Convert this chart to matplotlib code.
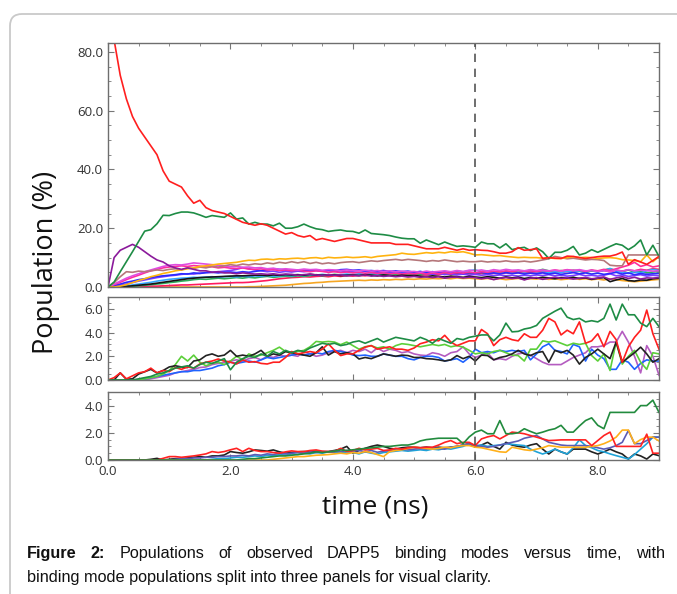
import numpy as np
import matplotlib
matplotlib.use("Agg")
import matplotlib.pyplot as plt
from matplotlib.patches import FancyBboxPatch
from matplotlib.transforms import IdentityTransform
from matplotlib.ticker import MultipleLocator, FormatStrFormatter
from matplotlib import font_manager

W, H = 677, 594

# time axis, one sample every 0.1 ns
time_ns = np.round(np.arange(91) * 0.1, 1)

# ---- top panel ----
top_red = [
    92, 84, 72, 64, 58, 54, 51, 48, 45, 39.5,
    36, 35, 34, 31, 28.5, 29.5, 27, 26, 25.5, 25,
    24, 23, 22, 21.5, 21, 21.5, 21, 20, 19, 18,
    18.5, 17.5, 17, 17.5, 16, 16.5, 16, 15.5, 16, 16.5,
    16.5, 16, 15.5, 15, 15, 15, 15, 14.5, 14.5, 14.5,
    14, 13.5, 13, 13, 13, 13.5, 13, 12.5, 13, 12.5,
    12.7, 12.5, 12.4, 12, 11.5, 11.5, 12, 13.4, 12.5, 12.7,
    13, 9.7, 10, 9.8, 9.7, 10.5, 10.4, 10, 9.7, 10,
    10.3, 10.5, 10.5, 11, 11.9, 7.7, 9.3, 8.5, 7.7, 9,
    10.4]
top_dgreen = [
    0, 1.7, 5.2, 8.6, 12, 15.5, 19, 19.5, 21.5, 24.4,
    24.3, 25, 25.5, 25.5, 25.2, 24.5, 23.7, 24.3, 24, 23.7,
    25.2, 23.1, 23.5, 21.4, 22, 21.4, 21.4, 20.8, 21.7, 20,
    20, 20.5, 21.4, 20.5, 19.8, 19.5, 18.9, 19.2, 19.4, 19,
    18.9, 18.3, 19.4, 18.2, 18, 17.8, 17.5, 17, 16.6, 16.4,
    16.4, 14.9, 16, 15.2, 14.4, 15.3, 14.5, 13.8, 14, 13.8,
    13.5, 15.3, 14.7, 14.7, 13.3, 14.7, 12.7, 13.2, 13.5, 12.4,
    13.3, 12, 9.7, 11.8, 11.8, 12.5, 13.8, 10.9, 11.5, 12.7,
    11.8, 12.8, 13.8, 14.7, 14.2, 12.7, 14, 16, 10.9, 14.2,
    10.4]
top_purple = [
    0, 10, 12.5, 13.5, 14.5, 13.5, 12, 10.5, 9.2, 8.5,
    7.2, 6.5, 6, 6.5, 6, 5.5, 5.5, 5, 5.2, 4.8,
    4.8, 4.5, 4.8, 4.6, 4.4, 4.5, 4.3, 4.5, 4.2, 4.4,
    4.3, 4.0, 4.2, 4.4, 4.1, 3.9, 4.2, 4.0, 4.1, 3.8,
    4.0, 3.8, 4.1, 3.7, 3.9, 3.6, 3.8, 3.5, 3.7, 3.4,
    3.6, 3.3, 3.5, 3.2, 3.5, 3.0, 3.3, 3.4, 3.1, 3.3,
    3.2, 2.8, 3.1, 2.5, 3.0, 3.2, 2.9, 3.1, 2.4, 3.0,
    3.2, 2.6, 3.0, 3.3, 2.9, 3.1, 2.7, 3.0, 3.2, 2.8,
    3.0, 3.4, 2.6, 3.1, 3.5, 2.9, 3.3, 2.7, 3.1, 3.0,
    3.2]
top_orange = [
    0, 0, 0.3, 0.8, 1.5, 2.2, 2.8, 3.5, 4.0, 4.6,
    5.0, 5.5, 5.8, 6.2, 6.5, 7.0, 7.2, 7.5, 7.8, 8.0,
    8.2, 8.4, 8.8, 9.1, 9.0, 9.4, 9.5, 9.3, 9.6, 9.5,
    9.7, 9.8, 9.6, 9.9, 10.0, 9.7, 10.1, 9.9, 10.0, 10.2,
    10.0, 10.1, 10.3, 10.0, 10.4, 10.6, 10.8, 11.0, 11.5, 11.2,
    11.1, 11.4, 11.7, 11.5, 11.8, 11.6, 12.0, 11.8, 12.0, 11.5,
    10.9, 11.0, 10.8, 10.6, 10.7, 10.4, 10.2, 10.0, 10.1, 10.0,
    10.0, 9.8, 9.9, 9.7, 9.7, 10.0, 10.3, 10.0, 10.1, 10.0,
    9.7, 9.9, 10.0, 9.8, 9.3, 9.2, 9.0, 8.6, 10.9, 8.6,
    10.4]
top_rosy = [
    0, 1.5, 3.5, 5.2, 5.0, 5.4, 5.2, 5.5, 5.8, 5.6,
    6.0, 6.2, 5.8, 6.5, 6.3, 6.8, 6.5, 7.0, 6.8, 7.2,
    7.6, 7.3, 7.8, 7.5, 7.9, 7.7, 8.2, 7.9, 8.4, 8.1,
    8.6, 8.2, 8.6, 8.0, 8.4, 7.9, 8.2, 7.9, 8.3, 8.5,
    8.6, 8.3, 8.6, 8.9, 8.7, 9.0, 9.2, 9.4, 9.1, 9.4,
    9.2, 9.0, 8.7, 9.0, 8.8, 9.2, 8.9, 8.6, 8.8, 8.6,
    8.6, 8.8, 8.5, 8.7, 8.6, 8.9, 8.6, 8.6, 8.8, 8.5,
    8.8, 9.2, 9.6, 10.4, 10.0, 9.6, 9.8, 9.5, 9.2, 9.4,
    9.3, 9.0, 7.4, 7.2, 7.2, 10.9, 10.9, 10.9, 10.9, 10.9,
    10.9]
top_orchid = [
    0, 1.0, 2.0, 3.0, 3.8, 4.5, 5.2, 5.8, 6.4, 7.0,
    7.4, 7.6, 7.5, 7.8, 8.2, 8.0, 7.8, 7.6, 7.4, 7.2,
    6.9, 7.0, 6.7, 6.8, 6.5, 6.6, 6.2, 6.4, 6.0, 6.2,
    6.0, 5.8, 6.1, 5.9, 6.0, 5.7, 5.9, 5.8, 5.6, 5.8,
    5.6, 5.5, 5.7, 5.4, 5.6, 5.3, 5.5, 5.2, 5.4, 5.2,
    5.3, 5.0, 5.4, 5.1, 5.3, 5.5, 5.2, 5.6, 5.3, 5.7,
    5.5, 5.8, 5.4, 5.9, 5.6, 6.0, 5.7, 5.8, 5.5, 5.9,
    5.6, 5.8, 5.5, 5.7, 5.4, 5.8, 5.6, 5.9, 5.5, 5.6,
    5.3, 5.6, 5.2, 5.8, 5.4, 5.9, 5.5, 5.7, 5.6, 5.4,
    5.5]
top_dpink = [
    0, 0.8, 1.6, 2.5, 3.3, 4.0, 4.8, 5.5, 6.0, 6.5,
    6.8, 7.0, 7.2, 7.0, 7.3, 7.1, 6.8, 6.9, 6.5, 6.7,
    6.4, 6.3, 6.5, 6.1, 6.0, 6.2, 5.8, 5.9, 5.6, 5.8,
    5.5, 5.7, 5.4, 5.2, 5.5, 5.3, 5.0, 5.2, 4.9, 5.1,
    4.8, 5.0, 4.7, 4.9, 4.6, 4.8, 4.5, 4.7, 4.4, 4.6,
    4.5, 4.7, 4.4, 4.8, 4.5, 4.9, 4.6, 5.0, 4.7, 5.1,
    4.8, 5.2, 5.0, 5.4, 5.1, 5.5, 5.2, 5.6, 5.3, 5.5,
    5.2, 5.6, 5.4, 5.8, 5.5, 5.9, 5.6, 5.7, 5.3, 5.8,
    5.5, 6.0, 5.6, 6.2, 6.8, 7.4, 8.4, 7.0, 7.6, 6.8,
    7.2]
top_blue = [
    0, 0.5, 1.0, 1.6, 2.0, 2.5, 2.8, 3.2, 3.6, 3.8,
    4.0, 4.2, 4.5, 4.4, 4.8, 4.6, 4.9, 5.0, 4.8, 5.0,
    5.1, 4.9, 5.2, 5.0, 5.3, 5.6, 5.8, 6.2, 6.0, 5.8,
    5.6, 5.7, 5.5, 5.8, 5.6, 5.4, 5.7, 5.5, 5.9, 6.0,
    5.7, 5.8, 5.5, 5.6, 5.4, 5.6, 5.3, 5.5, 5.2, 5.4,
    5.0, 5.3, 4.9, 5.2, 4.8, 5.1, 4.7, 5.0, 4.6, 4.9,
    4.7, 5.0, 4.6, 4.8, 4.5, 4.9, 4.6, 4.8, 4.4, 4.7,
    4.5, 4.8, 4.4, 4.7, 4.3, 4.6, 4.9, 4.5, 4.8, 4.4,
    4.7, 4.3, 4.6, 5.0, 4.4, 4.8, 4.2, 4.6, 4.3, 4.5,
    4.6]
top_violet = [
    0, 0.3, 0.6, 1.0, 1.5, 2.0, 2.4, 2.8, 3.2, 3.5,
    3.8, 4.0, 4.3, 4.5, 4.4, 4.7, 4.9, 5.0, 5.2, 5.4,
    5.6, 6.0, 6.6, 6.2, 5.8, 5.5, 5.2, 5.4, 5.0, 5.3,
    5.1, 5.4, 5.2, 5.5, 5.8, 5.4, 5.6, 5.3, 5.5, 5.2,
    5.4, 5.6, 5.3, 5.1, 4.9, 5.2, 4.8, 5.0, 4.7, 4.9,
    4.6, 4.8, 4.5, 4.3, 4.6, 4.2, 4.5, 4.1, 4.4, 4.0,
    4.3, 4.0, 4.2, 3.9, 4.1, 3.8, 4.0, 3.7, 4.0, 3.8,
    4.1, 3.9, 4.2, 3.8, 4.0, 3.7, 3.9, 4.3, 3.8, 4.0,
    3.7, 4.0, 4.5, 3.8, 4.1, 3.6, 3.9, 4.2, 3.7, 4.0,
    3.8]
top_sky = [
    0, 0, 0.2, 0.4, 0.7, 1.0, 1.3, 1.6, 2.0, 2.3,
    2.6, 2.8, 3.0, 3.1, 3.3, 3.2, 3.4, 3.5, 3.3, 3.5,
    3.6, 3.4, 3.7, 3.5, 3.8, 3.6, 3.9, 3.7, 3.8, 4.0,
    3.8, 4.1, 3.9, 4.2, 4.0, 4.3, 4.1, 4.0, 4.2, 4.4,
    4.2, 4.5, 4.3, 4.6, 4.4, 4.7, 4.5, 4.8, 4.6, 4.9,
    4.7, 5.0, 4.8, 5.2, 4.9, 5.3, 5.0, 5.4, 5.1, 5.6,
    5.8, 5.2, 5.5, 5.0, 5.3, 4.9, 5.2, 5.6, 5.1, 5.4,
    5.0, 5.3, 4.8, 5.2, 4.9, 5.4, 5.0, 5.5, 5.1, 5.7,
    5.2, 5.6, 6.3, 5.4, 5.0, 4.6, 5.2, 4.8, 5.5, 6.0,
    5.6]
top_green = [
    0, 0, 0, 0.1, 0.2, 0.4, 0.6, 0.8, 1.0, 1.2,
    1.5, 1.7, 2.0, 2.2, 2.5, 2.7, 2.6, 2.8, 3.0, 2.8,
    3.0, 3.2, 3.0, 3.3, 3.1, 3.4, 3.6, 3.3, 3.5, 3.7,
    3.5, 3.8, 3.6, 3.9, 4.2, 3.8, 4.0, 4.3, 4.1, 3.9,
    4.2, 4.0, 4.3, 4.1, 4.4, 4.2, 4.5, 4.3, 4.6, 4.4,
    4.6, 4.3, 4.7, 4.5, 4.8, 4.4, 4.7, 5.0, 4.6, 4.9,
    4.7, 5.0, 4.6, 5.2, 4.8, 5.4, 5.0, 5.6, 5.2, 5.8,
    5.4, 6.0, 5.5, 5.2, 5.6, 5.3, 5.7, 5.4, 5.0, 5.5,
    5.2, 5.8, 6.2, 5.6, 5.3, 5.8, 5.0, 5.4, 4.8, 5.1,
    5.3]
top_black = [
    0, 0, 0.1, 0.2, 0.4, 0.6, 0.8, 1.0, 1.3, 1.6,
    1.9, 2.2, 2.5, 2.8, 3.0, 3.2, 3.3, 3.4, 3.5, 3.6,
    3.7, 3.8, 3.8, 3.9, 4.0, 4.0, 3.9, 4.1, 4.0, 4.2,
    4.1, 4.2, 4.0, 4.3, 4.1, 4.0, 4.2, 4.1, 3.9, 4.0,
    4.1, 3.9, 4.2, 4.0, 3.8, 4.1, 3.9, 3.7, 4.0, 3.8,
    3.9, 3.7, 3.5, 3.8, 3.6, 3.4, 3.7, 3.5, 3.3, 3.6,
    3.4, 3.2, 3.5, 3.3, 3.0, 3.4, 3.1, 3.3, 2.9, 3.2,
    3.0, 3.3, 3.1, 2.8, 3.2, 3.0, 3.3, 2.9, 3.1, 2.6,
    3.0, 3.2, 1.8, 2.4, 2.9, 2.2, 2.0, 2.4, 2.3, 2.8,
    3.0]
top_crimson = [
    0, 0, 0, 0.1, 0.1, 0.2, 0.2, 0.3, 0.3, 0.4,
    0.5, 0.6, 0.7, 0.7, 0.8, 0.9, 1.0, 1.1, 1.2, 1.3,
    1.4, 1.5, 1.5, 1.6, 1.8, 2.0, 2.2, 2.5, 2.8, 3.0,
    3.2, 3.3, 3.5, 3.4, 3.6, 3.7, 3.5, 3.8, 3.6, 3.9,
    3.7, 4.0, 3.8, 4.1, 3.9, 4.2, 4.0, 4.3, 4.1, 4.2,
    4.0, 4.3, 4.1, 4.4, 4.2, 4.5, 4.3, 4.6, 4.4, 4.5,
    4.3, 4.6, 4.4, 4.7, 4.5, 4.8, 4.6, 4.9, 4.7, 5.0,
    4.8, 5.1, 4.9, 5.2, 5.0, 5.3, 5.1, 5.4, 5.2, 5.5,
    5.3, 5.6, 5.2, 5.7, 5.4, 5.8, 5.5, 6.0, 5.7, 6.2,
    6.0]
top_amber = [
    0, 0, 0, 0, 0, 0, 0, 0, 0, 0,
    0, 0, 0, 0, 0, 0, 0, 0, 0, 0,
    0, 0, 0, 0.1, 0.1, 0.2, 0.3, 0.4, 0.5, 0.6,
    0.8, 1.0, 1.2, 1.3, 1.5, 1.6, 1.8, 1.9, 2.0, 2.1,
    2.2, 2.3, 2.2, 2.4, 2.3, 2.5, 2.4, 2.6, 2.5, 2.7,
    2.6, 2.8, 2.7, 2.9, 2.8, 3.0, 2.8, 3.1, 2.9, 3.0,
    2.8, 2.7, 2.9, 2.6, 2.8, 2.5, 2.7, 2.9, 2.6, 2.8,
    2.7, 2.9, 2.6, 2.8, 2.5, 2.7, 2.9, 2.6, 2.8, 2.5,
    2.7, 2.4, 2.8, 2.5, 2.2, 2.0, 1.8, 2.0, 2.2, 2.4,
    2.6]

# ---- middle panel ----
mid_dgreen = [
    0, 0, 0, 0, 0, 0.1, 0.2, 0.3, 0.5, 0.6,
    0.8, 1.0, 1.1, 1.2, 1.0, 1.3, 1.5, 1.4, 1.6, 1.8,
    0.86, 1.5, 1.8, 2.0, 1.9, 2.2, 2.0, 2.4, 2.2, 2.5,
    2.3, 2.5, 2.4, 2.7, 2.9, 3.1, 3.0, 3.1, 2.9, 3.0,
    3.2, 3.3, 3.1, 3.3, 3.5, 3.2, 3.4, 3.6, 3.5, 3.4,
    3.3, 3.6, 3.4, 3.1, 3.5, 3.3, 3.1, 3.5, 3.4, 3.6,
    3.7, 3.8, 3.8, 3.3, 3.8, 4.8, 4.06, 4.1, 4.3, 4.4,
    4.6, 5.2, 5.5, 5.8, 6.06, 5.3, 5.1, 5.2, 4.9, 5.0,
    4.9, 5.2, 6.4, 5.06, 6.4, 5.5, 5.5, 4.8, 4.5, 5.2,
    4.5]
mid_red = [
    0, 0.2, 0.6, 0.1, 0.35, 0.6, 0.7, 1.0, 0.6, 0.8,
    0.7, 1.05, 0.9, 1.1, 1.0, 1.35, 1.5, 1.6, 1.77, 1.6,
    1.5, 1.35, 1.7, 1.5, 1.55, 1.4, 1.35, 1.5, 1.5, 1.9,
    2.4, 2.2, 2.3, 2.4, 2.3, 2.6, 3.05, 2.5, 2.06, 2.2,
    2.2, 2.5, 2.77, 2.9, 2.6, 2.7, 2.8, 2.6, 2.6, 2.5,
    2.7, 3.06, 3.2, 3.4, 3.3, 3.77, 3.2, 2.9, 3.1, 3.3,
    3.3, 4.26, 3.9, 2.9, 3.4, 3.6, 3.4, 3.3, 3.9, 3.6,
    3.6, 4.2, 5.2, 4.9, 3.8, 4.2, 3.9, 4.9, 3.1, 3.3,
    3.9, 2.8, 4.1, 3.4, 1.5, 2.8, 3.6, 4.2, 5.9, 3.9,
    2.6]
mid_lgreen = [
    0, 0, 0, 0, 0, 0, 0.1, 0.2, 0.3, 0.5,
    0.8, 1.3, 2.0, 1.6, 2.1, 1.5, 1.2, 1.4, 1.5, 1.3,
    1.6, 2.0, 1.7, 2.2, 2.0, 2.1, 2.3, 2.5, 2.77, 2.4,
    2.3, 2.4, 2.5, 2.8, 3.25, 3.2, 3.25, 3.2, 2.98, 3.2,
    2.9, 2.6, 2.8, 2.9, 2.7, 2.8, 2.6, 2.9, 3.06, 3.0,
    2.9, 2.8, 2.9, 3.0, 2.9, 3.0, 2.8, 2.9, 2.77, 2.5,
    2.2, 2.3, 2.2, 2.4, 2.5, 2.3, 2.1, 2.06, 1.6, 2.6,
    2.6, 3.3, 3.2, 3.3, 3.1, 2.9, 3.1, 3.0, 3.1, 2.06,
    1.6, 2.2, 0.8, 3.2, 1.34, 2.0, 2.5, 1.5, 0.9, 2.3,
    2.2]
mid_blue = [
    0, 0, 0, 0, 0, 0, 0.1, 0.2, 0.3, 0.4,
    0.5, 0.6, 0.7, 0.7, 0.8, 0.8, 0.9, 1.0, 1.2, 1.3,
    1.5, 1.4, 1.5, 1.6, 1.5, 1.7, 1.9, 1.8, 1.9, 2.0,
    2.1, 2.2, 2.1, 2.2, 2.3, 2.2, 2.4, 2.5, 2.4, 2.3,
    2.1, 2.06, 2.1, 2.0, 2.0, 2.2, 2.1, 2.0, 2.0, 1.8,
    1.7, 1.9, 2.0, 2.0, 1.9, 1.6, 1.7, 1.8, 1.5, 1.9,
    2.6, 2.3, 2.4, 2.3, 2.5, 2.4, 2.5, 2.4, 2.5, 1.7,
    2.2, 2.8, 3.06, 2.5, 2.4, 2.2, 3.0, 2.8, 1.6, 2.6,
    2.1, 1.8, 0.9, 0.9, 1.7, 1.5, 0.9, 1.4, 1.7, 1.6,
    1.6]
mid_orchid = [
    0, 0, 0, 0, 0, 0, 0, 0.1, 0.2, 0.3,
    0.4, 0.6, 0.7, 0.8, 0.9, 1.05, 1.1, 1.3, 1.4, 1.5,
    1.6, 1.7, 1.6, 1.8, 1.9, 1.7, 2.0, 1.9, 2.1, 2.0,
    2.1, 2.0, 2.4, 2.2, 2.0, 2.1, 2.3, 2.4, 2.5, 2.3,
    2.5, 2.4, 2.6, 2.3, 2.7, 2.4, 2.6, 2.5, 2.3, 2.4,
    2.2, 2.1, 2.06, 2.3, 2.2, 2.0, 2.3, 2.4, 2.8, 2.2,
    1.9, 2.1, 2.3, 1.7, 1.8, 1.7, 2.0, 2.2, 2.3, 2.1,
    1.8, 1.5, 1.3, 1.3, 1.3, 1.6, 1.9, 2.1, 2.3, 2.8,
    2.8, 2.9, 3.2, 3.2, 4.1, 3.2, 2.0, 0.6, 2.9, 2.0,
    0.4]
mid_black = [
    0, 0, 0.6, 0.06, 0.1, 0.5, 0.7, 0.9, 0.6, 0.8,
    1.1, 1.2, 1.1, 1.05, 1.6, 1.7, 2.06, 2.2, 2.0, 2.1,
    2.5, 2.0, 2.1, 2.0, 2.2, 2.5, 2.0, 2.2, 2.1, 2.4,
    2.3, 2.2, 2.1, 2.0, 2.3, 2.8, 2.1, 2.4, 2.2, 2.3,
    2.2, 1.77, 1.9, 1.8, 2.0, 2.2, 2.1, 2.0, 2.1, 2.06,
    1.9, 1.9, 1.8, 1.77, 1.7, 1.6, 1.7, 2.06, 1.8, 2.0,
    1.6, 2.1, 2.06, 1.7, 1.9, 2.0, 2.2, 2.5, 2.2, 2.06,
    2.3, 2.4, 1.5, 2.5, 2.3, 2.5, 2.1, 1.34, 1.9, 2.2,
    2.6, 2.2, 1.8, 3.2, 1.5, 1.9, 2.3, 2.77, 2.2, 1.5,
    1.8]

# ---- bottom panel ----
bot_dgreen = [
    0, 0, 0, 0, 0, 0, 0, 0, 0, 0,
    0, 0, 0, 0, 0, 0, 0, 0, 0, 0,
    0, 0, 0.05, 0.1, 0.1, 0.15, 0.2, 0.25, 0.3, 0.3,
    0.35, 0.4, 0.45, 0.5, 0.6, 0.55, 0.6, 0.65, 0.74, 0.7,
    0.75, 0.8, 0.85, 0.9, 0.95, 1.0, 1.0, 1.05, 1.1, 1.1,
    1.2, 1.4, 1.5, 1.55, 1.6, 1.6, 1.6, 1.6, 1.2, 1.7,
    2.05, 2.2, 1.93, 1.93, 2.9, 1.93, 1.93, 2.0, 2.3, 2.1,
    1.93, 2.05, 2.2, 2.3, 2.55, 2.05, 2.05, 2.5, 2.9, 3.1,
    2.55, 2.3, 3.5, 3.5, 3.5, 3.5, 3.5, 4.0, 4.0, 4.4,
    3.5]
bot_red = [
    0, 0, 0, 0, 0, 0, 0, 0, 0, 0.12,
    0.25, 0.25, 0.2, 0.25, 0.3, 0.37, 0.45, 0.62, 0.55, 0.62,
    0.75, 0.86, 0.62, 0.86, 0.7, 0.62, 0.62, 0.55, 0.5, 0.6,
    0.67, 0.62, 0.62, 0.7, 0.74, 0.65, 0.62, 0.62, 0.86, 0.62,
    0.7, 0.86, 0.74, 0.8, 0.86, 0.7, 0.74, 0.86, 0.8, 0.9,
    0.94, 0.9, 0.94, 0.94, 1.1, 1.3, 1.43, 1.2, 1.3, 1.3,
    1.06, 1.55, 1.7, 1.8, 1.55, 1.8, 2.05, 2.0, 1.93, 1.8,
    1.68, 1.55, 1.43, 1.45, 1.48, 1.48, 1.48, 1.48, 1.48, 1.06,
    1.43, 1.8, 2.05, 1.0, 1.0, 1.0, 1.0, 1.0, 1.9, 0.5,
    0.5]
bot_slate = [
    0, 0, 0, 0, 0, 0, 0, 0, 0, 0,
    0, 0.05, 0.1, 0.1, 0.15, 0.15, 0.2, 0.2, 0.25, 0.25,
    0.3, 0.3, 0.35, 0.3, 0.4, 0.35, 0.45, 0.4, 0.5, 0.45,
    0.5, 0.55, 0.5, 0.6, 0.55, 0.62, 0.6, 0.65, 0.6, 0.7,
    0.65, 0.7, 0.6, 0.7, 0.57, 0.65, 0.7, 0.75, 0.8, 0.75,
    0.8, 0.85, 0.8, 0.9, 0.85, 0.8, 0.95, 1.0, 1.1, 1.2,
    1.06, 1.0, 0.94, 1.0, 1.1, 1.2, 1.3, 1.4, 1.6, 1.7,
    1.8, 1.55, 1.3, 1.2, 1.1, 1.06, 1.06, 1.06, 1.06, 1.0,
    0.9, 0.8, 0.9, 1.06, 1.3, 2.17, 1.2, 1.2, 1.43, 1.68,
    1.68]
bot_cyan = [
    0, 0, 0, 0, 0, 0, 0, 0, 0, 0,
    0, 0, 0, 0, 0, 0, 0, 0.05, 0.1, 0.1,
    0.15, 0.2, 0.2, 0.25, 0.3, 0.25, 0.35, 0.3, 0.4, 0.35,
    0.45, 0.4, 0.5, 0.45, 0.55, 0.5, 0.6, 0.55, 0.5, 0.6,
    0.55, 0.45, 0.6, 0.5, 0.44, 0.55, 0.6, 0.65, 0.7, 0.65,
    0.7, 0.75, 0.7, 0.8, 0.75, 0.85, 0.8, 0.9, 1.0, 1.2,
    1.06, 1.1, 1.0, 1.06, 1.1, 1.2, 1.15, 1.1, 1.06, 0.8,
    0.6, 0.44, 0.6, 0.8, 0.6, 0.44, 0.9, 1.48, 1.06, 0.9,
    0.7, 0.6, 0.45, 0.32, 0.2, 0.07, 0.4, 0.8, 1.2, 1.68,
    1.68]
bot_orange = [
    0, 0, 0, 0, 0, 0, 0, 0, 0, 0,
    0, 0, 0, 0, 0, 0, 0, 0, 0, 0,
    0, 0, 0, 0, 0, 0, 0, 0.05, 0.1, 0.15,
    0.2, 0.25, 0.25, 0.3, 0.35, 0.37, 0.4, 0.45, 0.5, 0.45,
    0.55, 0.5, 0.62, 0.55, 0.4, 0.25, 0.62, 0.7, 0.75, 0.85,
    0.94, 0.9, 0.85, 0.8, 0.85, 0.94, 0.9, 1.0, 1.06, 1.06,
    0.94, 0.9, 0.8, 0.7, 0.6, 0.57, 0.94, 0.85, 0.75, 0.7,
    0.8, 0.9, 1.06, 1.0, 0.94, 0.94, 0.94, 0.94, 0.94, 1.0,
    1.06, 1.2, 1.4, 1.68, 2.2, 2.2, 1.2, 1.5, 1.68, 1.68,
    1.4]
bot_black = [
    0, 0, 0, 0, 0, 0, 0, 0.05, 0.12, 0,
    0.05, 0.1, 0.1, 0.15, 0.2, 0.25, 0.2, 0.3, 0.3, 0.37,
    0.62, 0.55, 0.5, 0.6, 0.74, 0.7, 0.65, 0.74, 0.6, 0.5,
    0.55, 0.6, 0.62, 0.6, 0.65, 0.6, 0.62, 0.7, 0.8, 1.0,
    0.5, 0.7, 0.86, 1.0, 1.1, 1.0, 0.86, 0.8, 0.9, 0.94,
    0.94, 0.9, 0.95, 0.9, 0.94, 0.9, 0.94, 1.0, 1.1, 1.2,
    0.94, 1.1, 1.3, 1.0, 0.8, 1.3, 1.1, 1.0, 0.94, 1.1,
    1.2, 0.8, 0.44, 0.8, 0.6, 0.44, 0.8, 0.8, 0.8, 0.6,
    0.44, 0.6, 0.8, 0.6, 0.44, 0.07, 0.44, 0.3, 0.07, 0.44,
    0.32]

top_series = [
    (top_amber, "#f5a623"), (top_crimson, "#ff1a5e"), (top_green, "#2fae5a"),
    (top_sky, "#35a7ff"), (top_violet, "#7b3cff"), (top_blue, "#2b2bff"),
    (top_dpink, "#ff2d9b"), (top_orchid, "#e04ce0"), (top_black, "#151515"),
    (top_rosy, "#b5767a"), (top_orange, "#ffb30f"), (top_purple, "#8b1a9b"),
    (top_dgreen, "#1e8c45"), (top_red, "#ff1f1f"),
]
mid_series = [
    (mid_orchid, "#b45cc0"), (mid_blue, "#1f63ff"), (mid_lgreen, "#5ccf3a"),
    (mid_black, "#222222"), (mid_red, "#ff1f1f"), (mid_dgreen, "#1e8c45"),
]
bot_series = [
    (bot_black, "#222222"), (bot_cyan, "#1fa3d8"), (bot_slate, "#5b5bb5"),
    (bot_orange, "#ffb01a"), (bot_red, "#ff2222"), (bot_dgreen, "#228b3e"),
]


def have_font(name):
    try:
        font_manager.findfont(name, fallback_to_default=False)
        return True
    except ValueError:
        return False


narrow = have_font("Liberation Sans Narrow")
tick_font = "Liberation Sans Narrow" if narrow else "Open Sans"
cap_font = "Liberation Sans Narrow" if narrow else "Liberation Sans"

fig = plt.figure(figsize=(W / 100, H / 100), dpi=100)

# rounded frame around the figure
frame = FancyBboxPatch((10, -60), 720, H - 14 + 60,
                       boxstyle="round,pad=0,rounding_size=12",
                       transform=IdentityTransform(), facecolor="none",
                       edgecolor="#c9c9c9", linewidth=1.3)
fig.patches.append(frame)


def make_axes(top, bottom, ymax, major, minor, series, show_x):
    ax = fig.add_axes([108 / W, 1 - bottom / H, 551 / W, (bottom - top) / H])
    for vals, col in series:
        ax.plot(time_ns, vals, color=col, lw=1.2)
    ax.axvline(6.0, color="#555555", lw=1.2, ls=(0, (5, 4)))
    ax.set_xlim(0, 9)
    ax.set_ylim(0, ymax)
    ax.xaxis.set_major_locator(MultipleLocator(2))
    ax.xaxis.set_minor_locator(MultipleLocator(0.5))
    ax.yaxis.set_major_locator(MultipleLocator(major))
    ax.yaxis.set_minor_locator(MultipleLocator(minor))
    ax.xaxis.set_major_formatter(FormatStrFormatter("%.1f"))
    ax.yaxis.set_major_formatter(FormatStrFormatter("%.1f"))
    ax.tick_params(which="both", direction="in", top=True, right=True,
                   color="#777777", labelsize=10 if narrow else 9.5,
                   labelcolor="#333333")
    ax.tick_params(which="major", length=4)
    ax.tick_params(which="minor", length=2)
    for lab in ax.get_xticklabels() + ax.get_yticklabels():
        lab.set_family(tick_font)
    if not show_x:
        ax.tick_params(labelbottom=False)
    for sp in ax.spines.values():
        sp.set_color("#6e6e6e")
        sp.set_linewidth(1.0)
    return ax


ax1 = make_axes(43, 287, 83, 20, 5, top_series, False)
ax2 = make_axes(297, 380, 7, 2, 0.5, mid_series, False)
ax3 = make_axes(392, 460, 5, 2, 0.5, bot_series, True)
ax2.set_yticks([0, 2, 4, 6])
ax3.set_yticks([0, 2, 4])

fig.text(46 / W, 1 - 262 / H, "Population (%)", rotation=90, ha="center",
         va="center", fontsize=19.5, family="Open Sans", color="#111111")
fig.text(375 / W, 1 - 507 / H, "time (ns)", ha="center", va="center",
         fontsize=19, family="Open Sans", color="#111111")

# caption: second line sets the font size, first line is justified
fig.canvas.draw()
renderer = fig.canvas.get_renderer()
line2 = "binding mode populations split into three panels for visual clarity."
probe = fig.text(0, 0, line2, fontsize=11, family=cap_font,
                 transform=IdentityTransform())
cap_size = 11 * 460 / probe.get_window_extent(renderer).width
probe.remove()

words = ("Figure 2: Populations of observed DAPP5 binding modes versus "
         "time, with").split()
texts = []
for i, w in enumerate(words):
    t = fig.text(0, 0, w, fontsize=cap_size, family=cap_font,
                 fontweight="bold" if i < 2 else "normal", color="#111111",
                 transform=IdentityTransform())
    texts.append(t)
widths = [t.get_window_extent(renderer).width for t in texts]
gap = (638 - sum(widths)) / (len(texts) - 1)
x = 27
for t, w in zip(texts, widths):
    t.set_position((x, H - 558))
    x += w + gap
fig.text(27, H - 582, line2, fontsize=cap_size, family=cap_font,
         color="#111111", transform=IdentityTransform())

fig.savefig("out.png", dpi=100)
